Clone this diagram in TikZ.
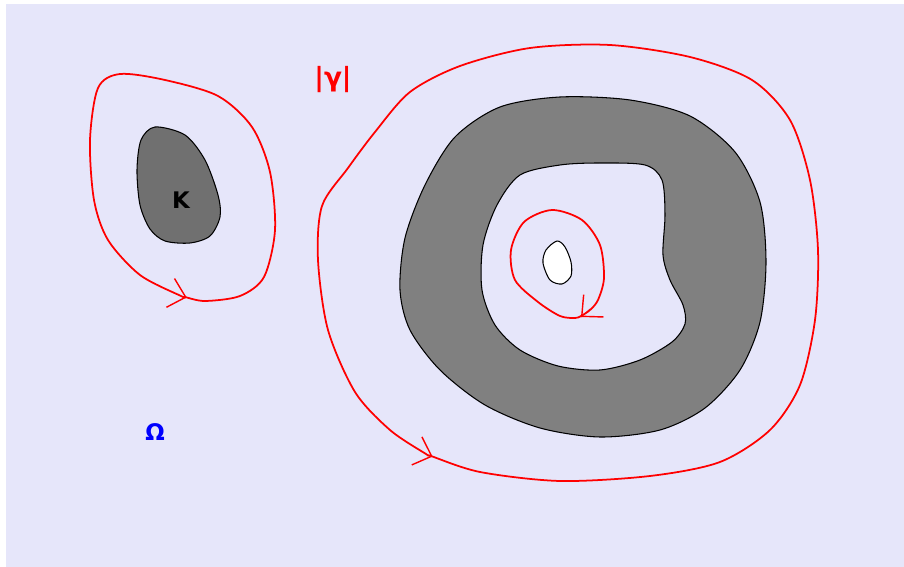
\documentclass[tikz,border=0pt]{standalone}
\usepackage{fontspec}
\setmainfont{DejaVu Sans}
\usetikzlibrary{arrows.meta,decorations.markings}

\begin{document}
\begin{tikzpicture}[x=0.02cm, y=-0.02cm,
    curve/.style={draw=red, line width=1pt},
    barb/.style={draw=red, decoration={markings,
      mark=at position #1 with {\arrow{Straight Barb[length=9pt, width=17pt, line width=0.8pt]}}},
      postaction=decorate},
  ]
  % Colours
  \definecolor{bgfill}{HTML}{E6E6FA}   % lavender
  \definecolor{setfill}{HTML}{808080}
  \definecolor{kfill}{HTML}{707070}

  \tikzstyle{region} = [draw=black, line width=0.6pt]
  \tikzstyle{lbl} = [inner sep=0pt]

  % Page and the domain Omega
  \useasboundingbox (0,0) rectangle (904,567);
  \fill[bgfill] (6,4) rectangle (904,567);

  % Compact set K, left part
  \fill[region, fill=kfill] plot[smooth cycle] coordinates {
    (155,127) (185,135) (205,160) (218,195) (220,217) (210,236)
    (190,243) (165,241) (150,229) (140,205) (137,170) (141,140)};

  % Compact set K, right part (annulus)
  \fill[region, fill=setfill, even odd rule]
    plot[smooth cycle] coordinates {
      (400,290) (405,238) (425,185) (455,137) (500,107) (560,97)
      (630,100) (690,116) (735,152) (760,202) (766,262) (760,322)
      (740,370) (705,408) (660,430) (600,437) (540,428) (485,405)
      (440,370) (410,330)}
    plot[smooth cycle] coordinates {
      (520,175) (560,165) (600,163) (645,165) (662,180) (665,215)
      (663,255) (670,280) (683,305) (685,324) (672,342) (640,360)
      (600,370) (558,366) (520,350) (495,325) (482,290) (483,245)
      (497,205)};

  % Hole inside
  \fill[region, fill=white] plot[smooth cycle] coordinates {
    (557,241) (565,247) (571,262) (571,276) (562,284) (550,280)
    (543,263) (546,250)};

  % Cycle gamma, three loops (arrow on the first short piece)
  \draw[curve, barb=1pt] plot[smooth cycle] coordinates {
    (181,296) (185,297) (205,301) (240,296) (264,277) (275,230) (270,172)
    (252,127) (218,96) (165,80) (120,74) (98,88) (90,140)
    (94,200) (108,240) (140,275)};
  \draw[curve, barb=1pt] plot[smooth cycle] coordinates {
    (426,454) (431,456) (480,472) (560,481) (650,476) (720,462) (770,430)
    (800,385) (815,320) (818,250) (810,180) (790,120) (752,80)
    (690,57) (610,45) (530,48) (460,66) (410,92) (375,132)
    (348,168) (322,206) (318,260) (328,330) (355,392) (390,430)};
  \draw[curve] plot[smooth cycle] coordinates {
    (581,316) (575,318) (560,316) (538,302) (515,280) (511,250) (524,222)
    (552,210) (582,220) (600,245) (604,278) (598,300) (590,310)};

  % Arrow of the inner loop, drawn on its own
  \coordinate (innertail) at (590,309);
  \coordinate (innertip) at (581,317);
  \path[barb=1] (innertail) -- (innertip);

  % Labels
  \node[lbl, font=\bfseries\fontsize{13}{16}\selectfont] (Klbl) at (181,200) {K};
  \node[lbl, text=red, font=\bfseries\fontsize{15}{18}\selectfont] (gammalbl) at (333,80) {|γ|};
  \node[lbl, text=blue, font=\bfseries\fontsize{13}{16}\selectfont] (omegalbl) at (155,432) {Ω};
\end{tikzpicture}
\end{document}
